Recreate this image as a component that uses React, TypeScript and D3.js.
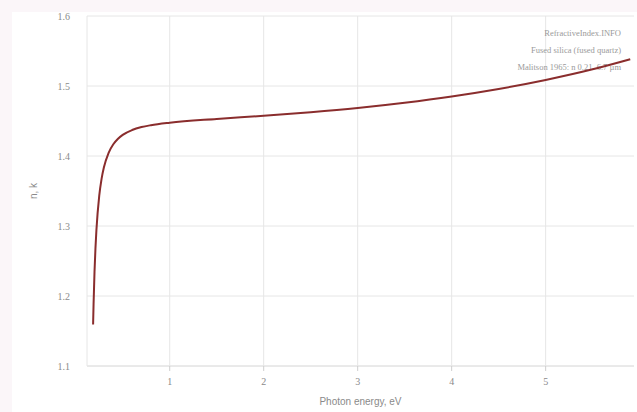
import React from "react";
import * as d3 from "d3";

// Photon energy (eV) and refractive index n of fused silica
const energy = [0.185, 0.19, 0.2, 0.21, 0.22, 0.25, 0.275, 0.3, 0.35, 0.4, 0.45, 0.5, 0.6, 0.7, 0.8, 1.0, 1.5, 2.0, 2.5, 3.0, 3.5, 4.0, 4.5, 5.0, 5.5, 5.9];
const nValues = [1.1592, 1.1891, 1.2348, 1.2682, 1.2937, 1.3429, 1.3673, 1.3838, 1.4046, 1.4168, 1.4247, 1.4302, 1.4371, 1.4413, 1.4440, 1.4476, 1.4529, 1.4574, 1.4626, 1.4687, 1.4762, 1.4851, 1.4958, 1.5086, 1.5238, 1.5382];

const xTicks = [1, 2, 3, 4, 5];
const yTicks = [1.1, 1.2, 1.3, 1.4, 1.5, 1.6];

const infoLines = ["RefractiveIndex.INFO", "Fused silica (fused quartz)", "Malitson 1965: n 0.21–6.7 µm"];

const W = 637;
const H = 412;
const plot = { left: 87, right: 634, top: 16, bottom: 366 };

export default function App() {
  const x = d3.scaleLinear().domain([0.12, 5.94]).range([plot.left, plot.right]);
  const y = d3.scaleLinear().domain([1.1, 1.6]).range([plot.bottom, plot.top]);

  const points: [number, number][] = energy.map((e, i) => [e, nValues[i]]);
  const line = d3
    .line<[number, number]>()
    .x((d) => x(d[0]))
    .y((d) => y(d[1]))
    .curve(d3.curveMonotoneX);

  const textColor = "#8a8a8a";
  const gridColor = "#e6e6e6";

  return (
    <svg
      width={W}
      height={H}
      style={{ position: "absolute", left: 0, top: 0, display: "block" }}
    >
      <rect x={0} y={0} width={W} height={H} fill="#fbf6f9" />
      <rect x={12} y={12} width={W - 12} height={H - 12} fill="#ffffff" />

      {/* horizontal gridlines */}
      {yTicks.map((t) => (
        <line
          key={"gy" + t}
          x1={plot.left}
          x2={plot.right}
          y1={y(t)}
          y2={y(t)}
          stroke={t === 1.1 ? "#d4d4d4" : gridColor}
          strokeWidth={1}
        />
      ))}
      {/* vertical gridlines */}
      {xTicks.map((t) => (
        <line
          key={"gx" + t}
          x1={x(t)}
          x2={x(t)}
          y1={plot.top}
          y2={plot.bottom}
          stroke={gridColor}
          strokeWidth={1}
        />
      ))}
      <line x1={plot.left} x2={plot.left} y1={plot.top} y2={plot.bottom} stroke={gridColor} />

      {/* x tick marks */}
      {xTicks.map((t) => (
        <line
          key={"tx" + t}
          x1={x(t)}
          x2={x(t)}
          y1={plot.bottom}
          y2={plot.bottom + 5}
          stroke="#cfcfcf"
        />
      ))}

      {/* tick labels */}
      {xTicks.map((t) => (
        <text
          key={"lx" + t}
          x={x(t)}
          y={plot.bottom + 19}
          textAnchor="middle"
          fontFamily="Liberation Serif, serif"
          fontSize={10}
          fill={textColor}
        >
          {t}
        </text>
      ))}
      {yTicks.map((t) => (
        <text
          key={"ly" + t}
          x={70}
          y={y(t) + 4}
          textAnchor="end"
          fontFamily="Liberation Serif, serif"
          fontSize={10}
          fill={textColor}
        >
          {t.toFixed(1)}
        </text>
      ))}

      {/* axis titles */}
      <text
        x={(plot.left + plot.right) / 2}
        y={405}
        textAnchor="middle"
        fontFamily="Liberation Sans, Arial, sans-serif"
        fontSize={10}
        fill={textColor}
      >
        Photon energy, eV
      </text>
      <text
        transform={`translate(37, ${(plot.top + plot.bottom) / 2}) rotate(-90)`}
        textAnchor="middle"
        fontFamily="Liberation Sans, Arial, sans-serif"
        fontSize={10}
        fill={textColor}
      >
        n, k
      </text>

      {/* source note */}
      {infoLines.map((s, i) => (
        <text
          key={s}
          x={621}
          y={36 + i * 17}
          textAnchor="end"
          fontFamily="Liberation Serif, serif"
          fontSize={8.5}
          fill="#9a9a9a"
        >
          {s}
        </text>
      ))}

      {/* n curve */}
      <path d={line(points) ?? ""} fill="none" stroke="#8a2d2d" strokeWidth={2} />
    </svg>
  );
}
